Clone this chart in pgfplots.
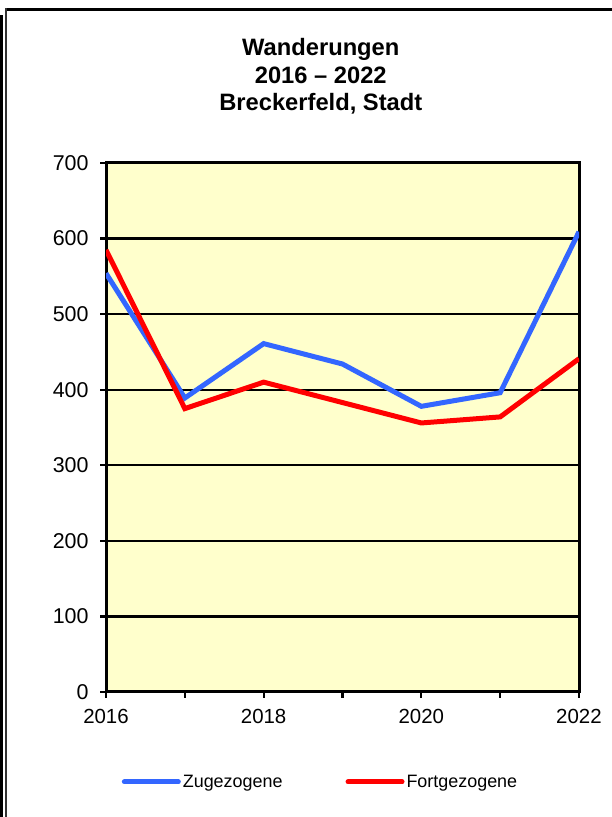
\documentclass[border=0pt]{standalone}
\usepackage{fontspec}
\setmainfont{Liberation Sans}
\usepackage{pgfplots}
\pgfplotsset{compat=1.18}
\definecolor{zublue}{RGB}{51,102,255}
\definecolor{fored}{RGB}{255,0,0}
\definecolor{bgyellow}{RGB}{255,255,204}
\begin{document}
\begin{tikzpicture}
\useasboundingbox (0,0) rectangle (612bp,817bp);
\fill[white] (0,0) rectangle (612bp,817bp);
\draw[line width=2.3bp] (5bp,807.5bp) -- (612bp,807.5bp);
\draw[line width=2.5bp, black!80] (6bp,0) -- (6bp,808.6bp);
\fill[black] (0,0) rectangle (3.3bp,802bp);
\begin{axis}[
 scale only axis, width=473bp, height=529bp,
 at={(106bp,125bp)}, anchor=south west,
 xmin=2016, xmax=2022, ymin=0, ymax=700,
 xtick={2016,...,2022}, xticklabels={2016,,2018,,2020,,2022},
 ytick={0,100,...,700},
 tick pos=left,
 tick align=outside, major tick length=6bp,
 tick style={black, line width=2.2bp},
 axis line style={line width=3bp},
 ymajorgrids, major grid style={black, line width=2.2bp},
 axis background/.style={fill=bgyellow},
 /pgf/number format/assume math mode=true,
 xticklabel style={font=\fontsize{20.5}{24}\selectfont, yshift=-8bp},
 yticklabel style={font=\fontsize{21.5}{25}\selectfont, xshift=-8bp},
 title={Wanderungen\\2016 – 2022\\Breckerfeld, Stadt},
 title style={at={(rel axis cs:0.4541,1)}, anchor=north, yshift=118.5bp, inner sep=0pt, align=center, font=\bfseries\fontsize{23.8}{27.3}\selectfont},
 legend columns=2,
 legend style={draw=none, fill=none, at={(rel axis cs:0.4535,-0.170)}, anchor=center,
   font=\fontsize{18}{21}\selectfont,
   /tikz/every even column/.append style={column sep=61bp}},
 legend image code/.code={\draw[#1, line cap=round] (0bp,0bp) -- (54bp,0bp);},
]
\addplot[zublue, line width=5bp] coordinates {(2016,554)(2017,389)(2018,461)(2019,434)(2020,378)(2021,396)(2022,609)};
\addplot[fored, line width=5bp] coordinates {(2016,585)(2017,375)(2018,410)(2019,383)(2020,356)(2021,364)(2022,441)};
\legend{Zugezogene, Fortgezogene}
\end{axis}
\end{tikzpicture}
\end{document}
